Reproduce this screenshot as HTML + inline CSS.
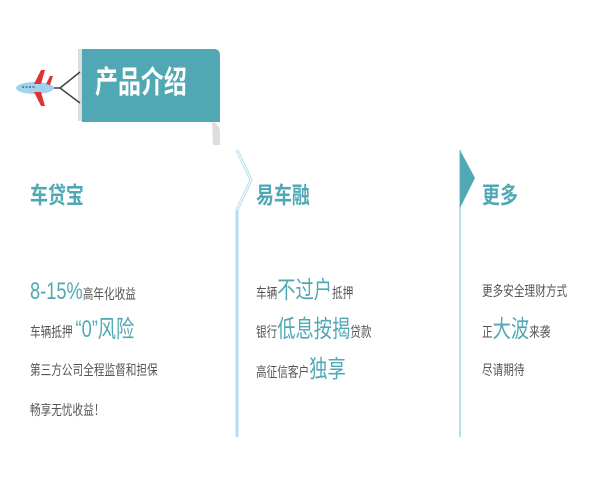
<!DOCTYPE html>
<html><head><meta charset="utf-8"><style>
body{margin:0;width:600px;height:500px;background:#fff;position:relative;overflow:hidden;font-family:"Liberation Sans","Noto Sans CJK SC",sans-serif;color:#555}
.t{position:absolute;white-space:nowrap;font-size:14px;line-height:1;transform:scaleX(0.76);transform-origin:0 50%}
.b{color:#4fa8b4;font-size:22px}
.h{position:absolute;font-size:23px;font-weight:bold;color:#4fa8b4;line-height:1;transform:scaleX(0.78);transform-origin:0 50%}
</style></head><body>
<svg width="600" height="500" style="position:absolute;left:0;top:0">
<path d="M212,122 Q220,124 220,132 L220,145 L213,145 Z" fill="#ddd"/>
<rect x="78" y="49" width="4" height="72" fill="#ddd"/>
<path d="M82,49 H214 Q220,49 220,56 V122 H82 Z" fill="#50a8b4"/>
<line x1="60" y1="88" x2="80" y2="72" stroke="#444" stroke-width="1.5"/>
<line x1="60" y1="88" x2="80" y2="103" stroke="#444" stroke-width="1.5"/>
<line x1="50" y1="88" x2="60" y2="88" stroke="#444" stroke-width="1.5"/>
<ellipse cx="35" cy="88" rx="19" ry="6" fill="#9fd3ee"/>
<path d="M34,84 L41,70 L45,70 L41,84Z" fill="#d33"/>
<path d="M34,92 L41,106 L45,106 L41,92Z" fill="#d33"/>
<path d="M46,84 L50,76 L53,76 L50,85Z" fill="#d33"/>
<line x1="22" y1="87" x2="36" y2="87" stroke="#333" stroke-dasharray="2,1.5"/>
<path d="M237,150 L251,180 L237,210 V437" fill="none" stroke="#b5def0" stroke-width="3"/>
<path d="M237,150 L251,180 L237,210" fill="none" stroke="#fff" stroke-width="1"/>
<line x1="460" y1="150" x2="460" y2="437" stroke="#b5def0" stroke-width="2"/>
<path d="M460,150 L475,178 L460,208 Z" fill="#50a8b4"/>
</svg>
<div style="position:absolute;left:95px;top:67px;font-size:31px;font-weight:bold;color:#fff;line-height:1;transform:scaleX(0.74);transform-origin:0 50%;white-space:nowrap">产品介绍</div>
<div class="h" style="left:30px;top:184px">车贷宝</div>
<div class="h" style="left:256px;top:184px">易车融</div>
<div class="h" style="left:482px;top:184px">更多</div>
<div class="t" style="left:30px;top:280px"><span class="b" style="font-size:24px">8-15%</span>高年化收益</div>
<div class="t" style="left:30px;top:318px">车辆抵押 <span class="b" style="font-size:24px">“0”风险</span></div>
<div class="t" style="left:30px;top:363px">第三方公司全程监督和担保</div>
<div class="t" style="left:30px;top:403px">畅享无忧收益！</div>
<div class="t" style="left:256px;top:279px">车辆<span class="b" style="font-size:24px">不过户</span>抵押</div>
<div class="t" style="left:256px;top:318px">银行<span class="b" style="font-size:24px">低息按揭</span>贷款</div>
<div class="t" style="left:256px;top:358px">高征信客户<span class="b" style="font-size:24px">独享</span></div>
<div class="t" style="left:482px;top:284px">更多安全理财方式</div>
<div class="t" style="left:482px;top:318px">正<span class="b" style="font-size:24px">大波</span>来袭</div>
<div class="t" style="left:482px;top:363px">尽请期待</div>
</body></html>
